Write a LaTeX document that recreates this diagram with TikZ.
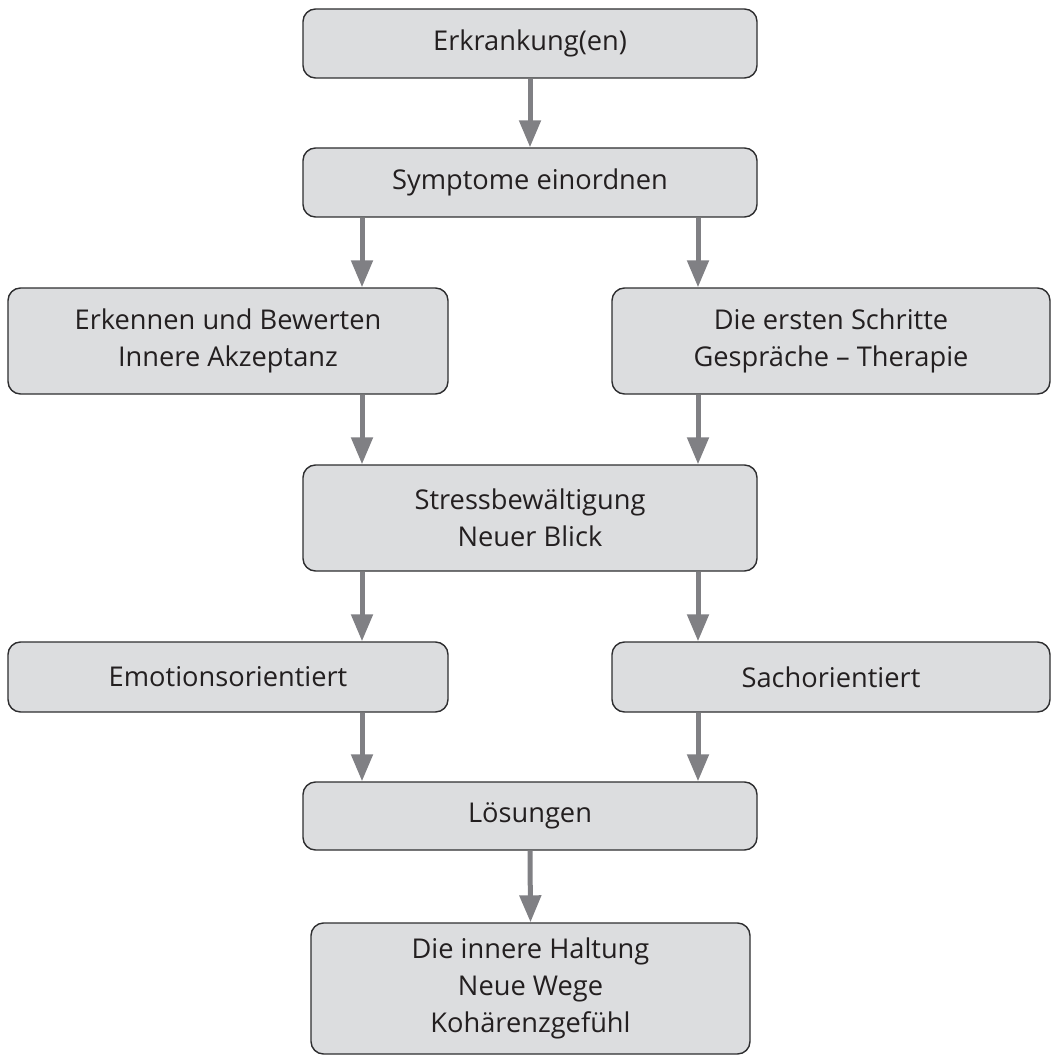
\documentclass[tikz,border=0pt]{standalone}
\usepackage{fontspec}
\setmainfont{Open Sans}
\usetikzlibrary{arrows.meta}

\begin{document}
\begin{tikzpicture}[
    box/.style={draw=boxline, line width=0.8pt, fill=boxfill, rounded corners=0.25cm, align=center, text=textcol, font=\fontsize{15.5}{21}\selectfont, inner sep=0pt},
    flow/.style={draw=arrowcol, line width=0.1cm, -{Triangle[length=0.54cm, width=0.42cm]}}
]
    \definecolor{boxfill}{HTML}{DCDDDF}
    \definecolor{boxline}{HTML}{2E2E30}
    \definecolor{arrowcol}{HTML}{808084}
    \definecolor{textcol}{HTML}{231F20}

    \useasboundingbox (0,0) rectangle (21.12,-21.22);

    \node[box, minimum width=9.08cm, minimum height=1.38cm] (erk) at (10.6,-0.87) {Erkrankung(en)};
    \node[box, minimum width=9.08cm, minimum height=1.38cm] (sym) at (10.6,-3.65) {Symptome einordnen};

    \node[box, minimum width=8.8cm, minimum height=2.12cm] (bew) at (4.56,-6.82) {Erkennen und Bewerten\\Innere Akzeptanz};
    \node[box, minimum width=8.76cm, minimum height=2.12cm] (schr) at (16.62,-6.82) {Die ersten Schritte\\Gespräche – Therapie};

    \node[box, minimum width=9.08cm, minimum height=2.12cm] (stress) at (10.6,-10.36) {Stressbewältigung\\Neuer Blick};

    \node[box, minimum width=8.8cm, minimum height=1.4cm] (emo) at (4.56,-13.54) {Emotionsorientiert};
    \node[box, minimum width=8.76cm, minimum height=1.4cm] (sach) at (16.62,-13.54) {Sachorientiert};

    \node[box, minimum width=9.08cm, minimum height=1.36cm] (loes) at (10.6,-16.32) {Lösungen};
    \node[box, minimum width=8.78cm, minimum height=2.62cm] (halt) at (10.61,-19.77) {Die innere Haltung\\Neue Wege\\Kohärenzgefühl};

    \coordinate (colL) at (7.24,0);
    \coordinate (colR) at (13.96,0);

    \path[flow] (erk.south) -- (sym.north);
    \path[flow] (sym.south -| colL) -- (bew.north -| colL);
    \path[flow] (sym.south -| colR) -- (schr.north -| colR);
    \path[flow] (bew.south -| colL) -- (stress.north -| colL);
    \path[flow] (schr.south -| colR) -- (stress.north -| colR);
    \path[flow] (stress.south -| colL) -- (emo.north -| colL);
    \path[flow] (stress.south -| colR) -- (sach.north -| colR);
    \path[flow] (emo.south -| colL) -- (loes.north -| colL);
    \path[flow] (sach.south -| colR) -- (loes.north -| colR);
    \path[flow] (loes.south) -- (halt.north);

\end{tikzpicture}
\end{document}
